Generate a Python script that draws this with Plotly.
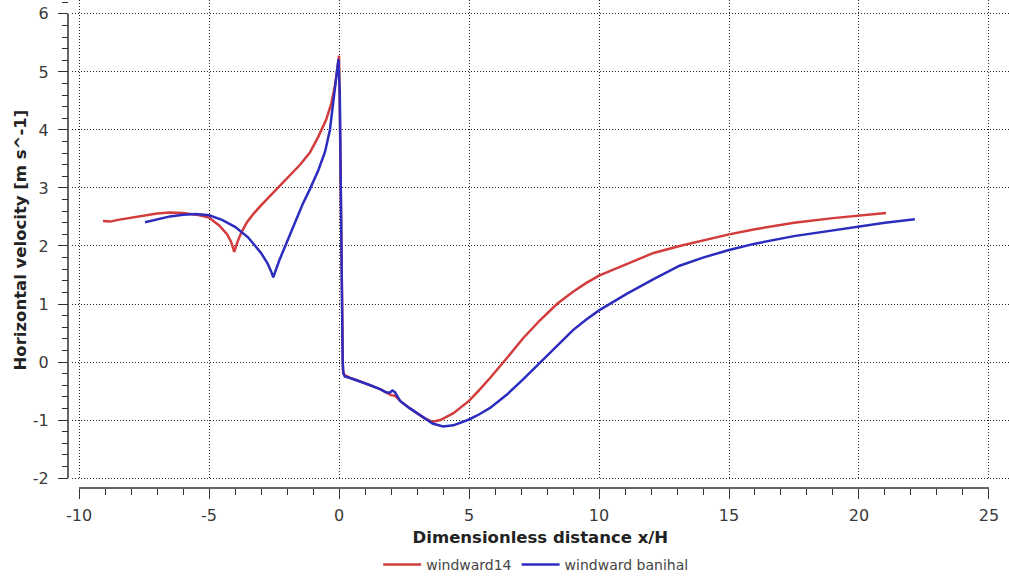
import plotly.graph_objects as go

# ---- data ----
red_name = "windward14"
red_x = [-9.08, -8.8, -8.5, -8.0, -7.5, -7.0, -6.5, -6.0, -5.5, -5.0, -4.6, -4.3, -4.15, -4.03,
         -3.9, -3.75, -3.54, -3.3, -3.0, -2.7, -2.4, -2.0, -1.5, -1.12, -0.8, -0.5, -0.3, -0.15,
         -0.05, 0.0, 0.04, 0.08, 0.12, 0.15, 0.2, 0.4, 0.8, 1.2, 1.6, 1.8, 2.0, 2.15, 2.35, 2.7,
         3.0, 3.3, 3.6, 3.9, 4.4, 5.0, 5.4, 5.8, 6.46, 7.08, 7.73, 8.38, 9.0, 9.5, 10.0, 11.08,
         12.1, 13.1, 14.0, 15.0, 16.0, 17.5, 19.0, 20.0, 21.04]
red_y = [2.43, 2.42, 2.45, 2.49, 2.53, 2.56, 2.575, 2.57, 2.54, 2.49, 2.35, 2.2, 2.07, 1.90,
         2.08, 2.24, 2.41, 2.55, 2.70, 2.84, 2.97, 3.15, 3.40, 3.61, 3.88, 4.17, 4.45, 4.78,
         5.08, 5.28, 4.0, 2.0, 0.5, -0.15, -0.22, -0.27, -0.33, -0.40, -0.47, -0.52, -0.57,
         -0.58, -0.67, -0.79, -0.88, -0.97, -1.03, -1.0, -0.88, -0.67, -0.48, -0.28, 0.07,
         0.41, 0.72, 1.0, 1.21, 1.36, 1.49, 1.69, 1.88, 2.0, 2.1, 2.2, 2.29, 2.40, 2.48, 2.52,
         2.57]

blue_name = "windward banihal"
blue_x = [-7.46, -7.0, -6.5, -6.0, -5.5, -5.0, -4.5, -4.0, -3.5, -3.0, -2.75, -2.6, -2.53,
          -2.3, -2.0, -1.7, -1.4, -1.12, -0.8, -0.54, -0.35, -0.23, -0.12, -0.05, -0.02,
          0.03, 0.06, 0.1, 0.14, 0.17, 0.22, 0.4, 0.8, 1.2, 1.6, 1.8, 1.95, 2.05, 2.15, 2.35,
          2.7, 3.0, 3.3, 3.6, 4.0, 4.4, 5.0, 5.4, 5.81, 6.46, 7.08, 7.73, 8.38, 9.0, 9.5,
          10.0, 11.08, 12.1, 13.1, 14.0, 15.0, 16.0, 17.5, 19.0, 20.0, 21.0, 22.15]
blue_y = [2.41, 2.46, 2.51, 2.54, 2.55, 2.53, 2.45, 2.33, 2.15, 1.88, 1.70, 1.55, 1.46,
          1.75, 2.08, 2.42, 2.72, 2.98, 3.3, 3.62, 4.0, 4.45, 4.9, 5.2, 5.22,
          4.6, 3.0, 1.2, 0.0, -0.2, -0.25, -0.27, -0.33, -0.40, -0.47, -0.52, -0.53, -0.49,
          -0.52, -0.67, -0.79, -0.88, -0.98, -1.06, -1.11, -1.09, -0.99, -0.90, -0.79, -0.56,
          -0.30, -0.01, 0.27, 0.55, 0.73, 0.89, 1.18, 1.43, 1.66, 1.80, 1.93, 2.04, 2.17, 2.27,
          2.34, 2.40, 2.46]

x_tickvals = [-10, -5, 0, 5, 10, 15, 20, 25]
x_ticktext = ["-10", "-5", "0", "5", "10", "15", "20", "25"]
y_tickvals = [-2, -1, 0, 1, 2, 3, 4, 5, 6]
y_ticktext = ["-2", "-1", "0", "1", "2", "3", "4", "5", "6"]

x_title = "Dimensionless distance x/H"
y_title = "Horizontal velocity [m s^-1]"

FONT = "DejaVu Sans"
RED = "#d23c3c"
BLUE = "#2c2cbf"

fig = go.Figure()
fig.add_trace(go.Scatter(x=red_x, y=red_y, mode="lines", name=red_name,
                         line=dict(color=RED, width=2.5)))
fig.add_trace(go.Scatter(x=blue_x, y=blue_y, mode="lines", name=blue_name,
                         line=dict(color=BLUE, width=2.5)))

grid = dict(showgrid=True, gridcolor="#222222", gridwidth=1, griddash="1px,2px",
            zeroline=False, showline=False)

fig.update_layout(
    width=1009, height=581,
    margin=dict(l=68, r=0, t=0, b=89),
    paper_bgcolor="white", plot_bgcolor="white",
    font=dict(family=FONT, color="#333333"),
    showlegend=True,
    legend=dict(orientation="h", x=0.497, xanchor="center", y=-0.158, yanchor="middle",
                font=dict(family=FONT, size=14, color="#444444"), itemwidth=38,
                bgcolor="rgba(0,0,0,0)"),
    xaxis=dict(domain=[0.004, 1], range=[-10.28, 25.77], anchor="free", position=0,
               tickmode="array", tickvals=x_tickvals, ticktext=x_ticktext,
               ticks="outside", ticklen=10, tickwidth=1, tickcolor="#333333",
               minor=dict(tickmode="linear", tick0=-10, dtick=1, ticks="outside", ticklen=6,
                          tickcolor="#333333", showgrid=False),
               tickfont=dict(family=FONT, size=16, color="#3a3a3a"),
               ticklabelstandoff=3,
               title=dict(text=x_title, standoff=7,
                          font=dict(family=FONT, size=16.5, color="#222222", weight="bold")),
               **grid),
    yaxis=dict(domain=[0.016, 1], range=[-2.036, 6.239], anchor="free", position=0,
               tickmode="array", tickvals=y_tickvals, ticktext=y_ticktext,
               ticks="outside", ticklen=10, tickwidth=1, tickcolor="#333333",
               minor=dict(tickmode="linear", tick0=0, dtick=0.2, ticks="outside", ticklen=6,
                          tickcolor="#333333", showgrid=False),
               tickfont=dict(family=FONT, size=16, color="#3a3a3a"),
               ticklabelstandoff=6,
               title=dict(text=y_title, standoff=1,
                          font=dict(family=FONT, size=16.5, color="#222222", weight="bold")),
               **grid),
)

# axis lines spanning only the tick range, as in the reference
fig.add_shape(type="line", xref="x", yref="paper", x0=-10, x1=25, y0=0, y1=0,
              line=dict(color="#333333", width=1.5))
fig.add_shape(type="line", xref="paper", yref="y", x0=0, x1=0, y0=-2, y1=6,
              line=dict(color="#333333", width=1.5))

fig.write_html("out.html")
